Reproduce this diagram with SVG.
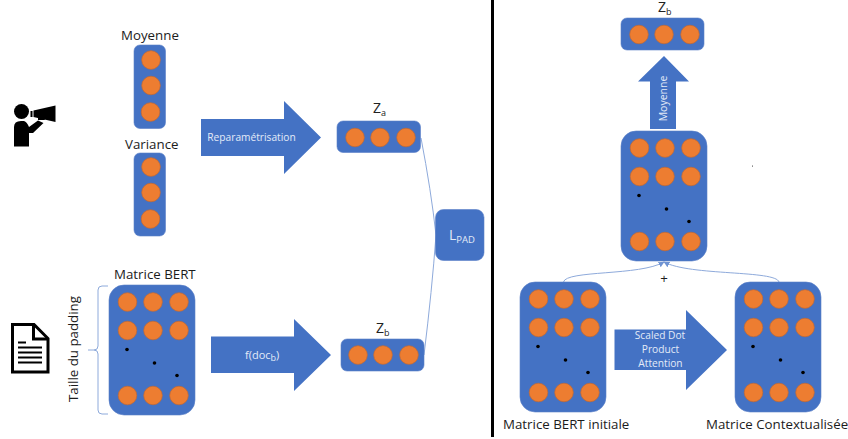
<svg xmlns="http://www.w3.org/2000/svg" width="848" height="439" viewBox="0 0 848 439">
<style>
.b{fill:#4472c4;stroke:#5b80c8;stroke-width:.6}
.a{fill:#4472c4}
.o{fill:#ed7d31;stroke:#c8692c;stroke-width:.7}
.d{fill:#000}
.l{fill:none;stroke:#8eaadb;stroke-width:1}
.t{font-family:"Open Sans","Liberation Sans",sans-serif;font-size:13.3px;fill:#1c1c1c}
.z{font-family:"Open Sans","Liberation Sans",sans-serif;font-size:14px;fill:#222}
.w{font-family:"Open Sans","Liberation Sans",sans-serif;font-size:10.2px;fill:#e3ebf8;text-anchor:middle}
.s{font-size:9px}
</style>
<defs>
<marker id="m" markerWidth="7" markerHeight="7" refX="5.5" refY="3" orient="auto" markerUnits="userSpaceOnUse"><path d="M0 0L6 3L0 6Z" fill="#6f93d3"/></marker>
<g id="v3"><circle class="o" cx="17" cy="15" r="9.3"/><circle class="o" cx="17" cy="40.5" r="9.3"/><circle class="o" cx="16.5" cy="67" r="9.3"/></g>
<g id="h3"><circle class="o" cx="18" cy="16.500" r="9.3"/><circle class="o" cx="43" cy="16.500" r="9.3"/><circle class="o" cx="69" cy="16.500" r="9.3"/></g>
<g id="mat">
<rect class="b" x="0" y="0" width="86" height="130" rx="15"/>
<circle class="o" cx="18.500" cy="17" r="9.3"/><circle class="o" cx="44" cy="17" r="9.3"/><circle class="o" cx="70" cy="17" r="9.3"/>
<circle class="o" cx="18.500" cy="45.500" r="9.3"/><circle class="o" cx="44" cy="45.500" r="9.3"/><circle class="o" cx="70" cy="45.500" r="9.3"/>
<circle class="o" cx="18.500" cy="110.500" r="9.3"/><circle class="o" cx="44" cy="110.500" r="9.3"/><circle class="o" cx="70" cy="110.500" r="9.3"/>
<circle class="d" cx="18" cy="64.500" r="1.8"/><circle class="d" cx="45.500" cy="78" r="1.8"/><circle class="d" cx="68" cy="90.500" r="1.8"/>
</g>
</defs>
<rect width="848" height="439" fill="#fff"/>
<g id="connectors">
<path class="l" d="M421 138Q431 190 436 235"/>
<path class="l" d="M424 355Q432 290 436 235"/>
<path class="l" d="M108 286H102Q98 286 98 290V346Q98 350 94 350H88M94 350Q98 350 98 354V410Q98 414 102 414H108"/>
<path class="l" d="M563.500 282C566 270 640 276 664 262" marker-end="url(#m)"/>
<path class="l" d="M779 282C776 270 690 276 664 262" marker-end="url(#m)"/>
<rect x="491" y="0" width="3" height="437" fill="#000"/>
</g>
<g id="presenter">
<circle class="d" cx="21.500" cy="111.500" r="7.500"/>
<path class="d" d="M14 127Q14 121 21 121H24Q27 122 29 127L38 120.500L43.500 123L33 133H29V146.500H14Z"/>
<path class="d" d="M33.500 110.500L55.500 105.500V122L33.500 117Z"/>
<rect class="d" x="30.500" y="111" width="2" height="6"/>
<path class="d" d="M38 118H44L45 120H38Z"/>
</g>
<g id="document">
<path d="M12.500 324.500H34L48 338.500V372H12.500Z" fill="#fff" stroke="#000" stroke-width="3"/>
<path d="M33.500 325V339H48" fill="none" stroke="#000" stroke-width="3"/>
<path d="M18 342.500H26M18 347.500H42M18 352.500H42M18 357.500H42M18 362.500H42" stroke="#000" stroke-width="2" fill="none"/>
</g>
<g id="moyenne">
<text class="t" x="121" y="40">Moyenne</text>
<g transform="translate(134 45)"><rect class="b" width="31.500" height="83.500" rx="6"/><use href="#v3"/></g>
</g>
<g id="variance">
<text class="t" x="125" y="149">Variance</text>
<g transform="translate(134 153)"><rect class="b" width="31.500" height="83" rx="6"/><g transform="translate(0 -1)"><use href="#v3"/></g></g>
</g>
<g id="reparam">
<path class="a" d="M201 119H284V101L321 137.500L284 174V156H201Z"/>
<text class="w" x="251.500" y="141">Reparamétrisation</text>
</g>
<g id="za">
<text class="z" x="373" y="113">Z<tspan class="s" dy="3">a</tspan></text>
<g transform="translate(337 121)"><rect class="b" width="83.500" height="31.500" rx="6"/><use href="#h3"/></g>
</g>
<g id="zb1">
<text class="z" x="376" y="332.500">Z<tspan class="s" dy="3">b</tspan></text>
<g transform="translate(341 339)"><rect class="b" width="83" height="32" rx="6"/><g transform="translate(-1 -.5)"><use href="#h3"/></g></g>
</g>
<g id="lpad">
<rect class="b" x="435.500" y="209.500" width="48.500" height="51" rx="8"/>
<text x="449" y="240" style="font-family:'Open Sans','Liberation Sans',sans-serif;font-size:14px;fill:#e3ebf8">L<tspan style="font-size:9.500px" dy="3">PAD</tspan></text>
</g>
<g id="matrice-bert">
<text class="t" x="114" y="279">Matrice BERT</text>
<use href="#mat" x="109" y="285"/>
<text class="t" transform="translate(78 402) rotate(-90)">Taille du padding</text>
</g>
<g id="fdoc">
<path class="a" d="M211 336.500H294V319L331 355L294 391V373H211Z"/>
<text x="245" y="359" style="font-family:'Open Sans','Liberation Sans',sans-serif;font-size:11px;fill:#e3ebf8">f(doc<tspan class="s" dy="2">b</tspan><tspan dy="-2">)</tspan></text>
</g>
<g id="zb2">
<text class="z" x="658" y="12">Z<tspan class="s" dy="3">b</tspan></text>
<g transform="translate(621 18)"><rect class="b" width="83" height="32" rx="6"/><use href="#h3"/></g>
</g>
<g id="moyenne-arrow">
<path class="a" d="M664 56L689 81.500H676V129H650V81.500H638Z"/>
<text class="w" transform="translate(667 98.500) rotate(-90)" style="font-size:10.5px">Moyenne</text>
</g>
<g id="matrice-somme">
<use href="#mat" x="621" y="131"/>
<circle class="d" cx="752.500" cy="166" r=".5"/>
</g>
<text class="t" x="664" y="283" text-anchor="middle" id="plus">+</text>
<g id="matrice-initiale">
<use href="#mat" x="520" y="282"/>
<text class="t" x="503" y="429">Matrice BERT initiale</text>
</g>
<g id="attention">
<path class="a" d="M614.500 329.500H686V310L727 350L686 390V370H614.500Z"/>
<text class="w" x="660" y="339">Scaled Dot</text>
<text class="w" x="660.500" y="353">Product</text>
<text class="w" x="660.500" y="367">Attention</text>
</g>
<g id="matrice-contexte">
<use href="#mat" x="735" y="282"/>
<text class="t" x="706" y="429">Matrice Contextualisée</text>
</g>
</svg>
